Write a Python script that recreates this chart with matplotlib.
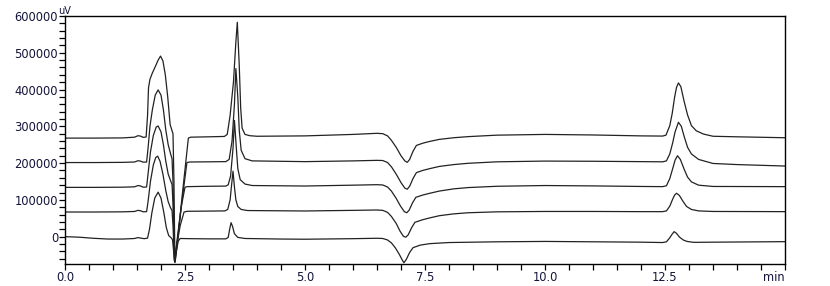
import matplotlib
matplotlib.use("Agg")
import matplotlib.pyplot as plt
from matplotlib.ticker import MultipleLocator

plt.rcParams['font.family'] = ['DejaVu Sans']

# ---- data (time in min, signal in uV) ----
t1 = [0.0, 0.6, 1.2, 1.45, 1.52, 1.57, 1.63, 1.69, 1.72, 1.74, 1.77, 1.82, 1.88, 1.94, 1.99, 2.04, 2.09, 2.14, 2.19, 2.23,
      2.25, 2.27, 2.29, 2.31, 2.44, 2.57, 2.62, 3.0, 3.32, 3.38, 3.44, 3.51, 3.56, 3.59, 3.63, 3.66, 3.69, 3.75, 3.85, 4.0,
      5.0, 6.0, 6.5, 6.62, 6.72, 6.8, 6.9, 7.0, 7.08, 7.13, 7.18, 7.25, 7.32, 7.45, 7.6, 7.8, 8.1, 8.4, 9.0, 10.0,
      11.0, 12.0, 12.45, 12.52, 12.6, 12.65, 12.7, 12.74, 12.78, 12.83, 12.9, 12.97, 13.05, 13.15, 13.3, 13.5, 14.0, 15.0]
v1 = [268000, 268000, 268500, 270500, 274500, 273500, 270000, 271000, 330000, 405000, 428000, 445000, 462000, 480000, 491000, 478000, 440000, 380000, 305000, 288000,
      280000, 150000, -70000, -55000, 110000, 268000, 270500, 271500, 272500, 278000, 330000, 421000, 530000, 583000, 466000, 350000, 295000, 278000, 274500, 273000,
      274000, 278000, 281000, 280000, 274000, 262000, 243000, 220000, 206000, 202000, 210000, 232000, 248000, 254000, 259000, 264500, 269000, 272000, 276000, 278000,
      276500, 274000, 273500, 276000, 302000, 335000, 379000, 406000, 418000, 408000, 367000, 331000, 302000, 288000, 279000, 273000, 271500, 269000]

t2 = [0.0, 0.6, 1.2, 1.45, 1.52, 1.57, 1.63, 1.7, 1.73, 1.77, 1.82, 1.88, 1.94, 2.0, 2.05, 2.1, 2.15, 2.2, 2.23, 2.25,
      2.285, 2.31, 2.44, 2.54, 2.6, 3.0, 3.35, 3.42, 3.48, 3.53, 3.56, 3.6, 3.63, 3.67, 3.75, 3.9, 5.0, 6.0, 6.5, 6.62,
      6.72, 6.8, 6.9, 7.0, 7.08, 7.13, 7.18, 7.25, 7.32, 7.45, 7.6, 7.8, 8.1, 8.4, 9.0, 10.0, 11.0, 12.0, 12.45, 12.53,
      12.6, 12.66, 12.71, 12.78, 12.84, 12.9, 12.97, 13.05, 13.2, 13.5, 14.0, 15.0]
v2 = [201500, 201500, 202000, 203000, 206500, 205500, 202500, 203000, 240000, 300000, 345000, 385000, 399000, 385000, 345000, 290000, 250000, 225000, 212000, 150000,
      -68000, -48000, 100000, 201500, 203000, 203500, 204000, 210000, 260000, 360000, 457000, 380000, 290000, 235000, 212000, 206000, 204000, 206000, 207500, 207000,
      201500, 190000, 170000, 147000, 132000, 129000, 137000, 158000, 174000, 180000, 185000, 191000, 196000, 199500, 203500, 205500, 205000, 204000, 203500, 206000,
      225000, 255000, 285000, 311000, 300000, 272000, 243000, 225000, 210000, 199000, 196000, 192000]

t3 = [0.0, 0.6, 1.2, 1.45, 1.52, 1.57, 1.63, 1.7, 1.73, 1.78, 1.84, 1.9, 1.94, 2.0, 2.05, 2.1, 2.15, 2.2, 2.23, 2.25,
      2.28, 2.3, 2.42, 2.5, 2.55, 3.0, 3.35, 3.4, 3.45, 3.5, 3.53, 3.57, 3.6, 3.65, 3.75, 3.9, 5.0, 6.0, 6.5, 6.62,
      6.72, 6.8, 6.9, 6.99, 7.07, 7.12, 7.17, 7.24, 7.31, 7.45, 7.6, 7.8, 8.1, 8.4, 9.0, 10.0, 11.0, 12.0, 12.45, 12.53,
      12.6, 12.66, 12.71, 12.76, 12.82, 12.9, 12.97, 13.05, 13.2, 13.5, 15.0]
v3 = [134000, 134000, 134500, 135500, 139000, 138000, 134500, 135000, 170000, 230000, 275000, 298000, 301000, 285000, 250000, 205000, 170000, 152000, 142000, 90000,
      -66000, -46000, 80000, 134500, 136000, 137000, 137500, 141000, 165000, 240000, 316000, 240000, 185000, 155000, 143000, 139000, 137700, 140000, 141300, 140500,
      135000, 124000, 104000, 83000, 68000, 65000, 72000, 92000, 107000, 113000, 118000, 124000, 130000, 133500, 137000, 139000, 138000, 136500, 136000, 138500,
      158000, 185000, 208000, 220000, 210000, 183000, 162000, 149000, 140000, 136500, 136000]

t4 = [0.0, 0.6, 1.2, 1.45, 1.52, 1.57, 1.63, 1.7, 1.73, 1.78, 1.84, 1.89, 1.93, 1.98, 2.04, 2.1, 2.15, 2.2, 2.23, 2.25,
      2.28, 2.3, 2.4, 2.48, 2.55, 3.0, 3.33, 3.39, 3.44, 3.47, 3.5, 3.53, 3.56, 3.6, 3.67, 3.8, 5.0, 6.0, 6.5, 6.62,
      6.72, 6.8, 6.9, 6.98, 7.05, 7.1, 7.15, 7.22, 7.29, 7.45, 7.6, 7.8, 8.1, 8.4, 9.0, 10.0, 11.0, 12.0, 12.45, 12.53,
      12.6, 12.66, 12.7, 12.74, 12.8, 12.88, 12.95, 13.05, 13.2, 13.5, 15.0]
v4 = [67000, 67000, 67500, 68500, 71500, 70500, 67500, 68000, 95000, 150000, 195000, 215000, 219000, 205000, 170000, 125000, 95000, 78000, 71000, 30000,
      -65000, -45000, 30000, 67000, 69000, 69500, 70000, 74000, 100000, 140000, 178000, 135000, 100000, 82000, 74000, 71000, 69800, 71500, 72500, 71500,
      66000, 55000, 36000, 15000, 1000, -1500, 5000, 24000, 39000, 46000, 51000, 57000, 62000, 65000, 67500, 68500, 68500, 68000, 68000, 70000,
      83000, 102000, 113000, 118000, 112000, 95000, 82000, 74000, 70000, 68500, 68000]

t5 = [0.0, 0.3, 0.6, 0.9, 1.2, 1.45, 1.52, 1.58, 1.65, 1.72, 1.76, 1.81, 1.87, 1.94, 2.0, 2.06, 2.11, 2.16, 2.21, 2.24,
      2.28, 2.31, 2.36, 2.4, 2.6, 3.0, 3.35, 3.4, 3.43, 3.46, 3.49, 3.53, 3.6, 3.75, 4.5, 5.0, 6.0, 6.5, 6.62, 6.72,
      6.8, 6.88, 6.96, 7.02, 7.06, 7.11, 7.18, 7.25, 7.4, 7.6, 8.0, 9.0, 10.0, 11.0, 12.0, 12.45, 12.53, 12.6, 12.65, 12.69,
      12.74, 12.8, 12.88, 12.96, 13.1, 13.5, 15.0]
v5 = [0, -1500, -4500, -6500, -6500, -5000, -2500, -4000, -5500, -4000, 20000, 65000, 105000, 121000, 105000, 65000, 25000, 3000, -3000, -8000,
      -62000, -45000, -12000, -5000, -5500, -6000, -6000, -2000, 20000, 38000, 28000, 8000, -2000, -5000, -6500, -7000, -5500, -4400, -5000, -9000,
      -17000, -30000, -47000, -62000, -71000, -62000, -43000, -30000, -23000, -19000, -16000, -14000, -13000, -14000, -15000, -16000, -14000, -3000, 7000, 13600,
      9000, -1000, -9000, -13000, -15500, -15000, -13600]

x_ticks = [0.0, 2.5, 5.0, 7.5, 10.0, 12.5, 15.0]
x_tick_labels = ['0.0', '2.5', '5.0', '7.5', '10.0', '12.5', 'min']
y_ticks = [0, 100000, 200000, 300000, 400000, 500000, 600000]
y_tick_labels = ['0', '100000', '200000', '300000', '400000', '500000', '600000']
y_unit = 'uV'

# ---- figure ----
fig = plt.figure(figsize=(8.30, 2.86), dpi=100)
ax = fig.add_axes([65 / 830, 22.5 / 286, 720 / 830, 247.5 / 286])

line_color = '#222222'
for tt, vv in [(t5, v5), (t4, v4), (t3, v3), (t2, v2), (t1, v1)]:
    ax.plot(tt, vv, color=line_color, lw=0.9, solid_joinstyle='round')

ax.set_xlim(0, 15)
ax.set_ylim(-73000, 600000)

text_color = '#14143a'
ax.set_xticks(x_ticks)
ax.set_xticklabels(x_tick_labels, fontsize=8.3, color=text_color)
ax.get_xticklabels()[-1].set_horizontalalignment('right')
ax.set_yticks(y_ticks)
ax.set_yticklabels(y_tick_labels, fontsize=8.3, color=text_color)
ax.xaxis.set_minor_locator(MultipleLocator(0.5))
ax.yaxis.set_minor_locator(MultipleLocator(20000))
ax.tick_params(which='both', direction='out', length=4, width=0.9, color='black')
ax.tick_params(axis='x', which='major', pad=1.5)
ax.tick_params(axis='y', which='major', pad=1)

for s in ax.spines.values():
    s.set_linewidth(1.0)
    s.set_color('black')

ax.text(0.0, 1.0, y_unit, transform=ax.transAxes, fontsize=7, color=text_color,
        ha='center', va='bottom')

fig.savefig('out.png', dpi=100)
